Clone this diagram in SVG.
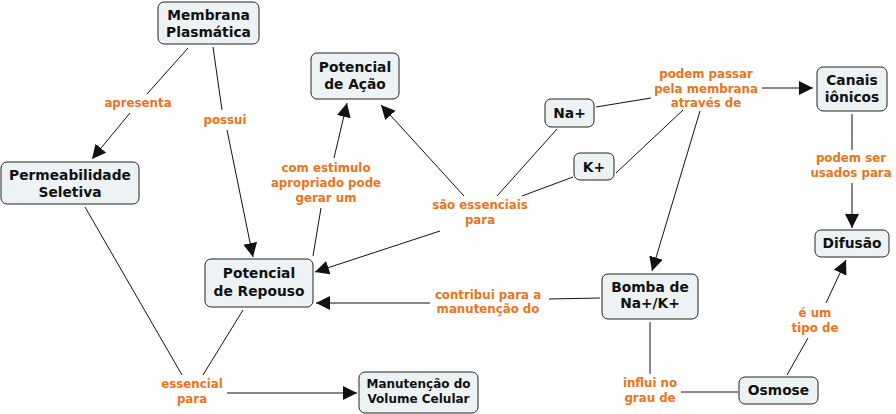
<svg xmlns="http://www.w3.org/2000/svg" width="896" height="414" viewBox="0 0 896 414">
<style>
.n rect{fill:#edf3f5;stroke:#222;stroke-width:1}
.n text{font-family:"DejaVu Sans",Verdana,sans-serif;font-weight:bold;font-size:13.8px;fill:#111;text-anchor:middle}
.l{font-family:"DejaVu Sans",Verdana,sans-serif;font-weight:bold;font-size:11.8px;fill:#ea7420;text-anchor:middle}
#conn line{stroke:#111;stroke-width:1;fill:none}
#conn line.a{marker-end:url(#ah)}
</style>
<defs>
<marker id="ah" viewBox="0 0 10 10" refX="10" refY="5" markerWidth="14" markerHeight="14" markerUnits="userSpaceOnUse" orient="auto">
<path d="M0,0 L10,5 L0,10 z" fill="#111"/>
</marker>
</defs>
<rect width="896" height="414" fill="#fff"/>
<g id="conn">
<line x1="188" y1="48" x2="147" y2="94"/>
<line class="a" x1="130" y1="113" x2="92" y2="159"/>
<line x1="213" y1="47" x2="222" y2="110"/>
<line class="a" x1="227" y1="130" x2="253" y2="257"/>
<line x1="85" y1="207" x2="182" y2="375"/>
<line x1="243" y1="310" x2="203" y2="375"/>
<line class="a" x1="227" y1="393" x2="357" y2="393"/>
<line x1="313" y1="256" x2="321" y2="208"/>
<line class="a" x1="334" y1="158" x2="347" y2="103"/>
<line x1="557" y1="129" x2="497" y2="196"/>
<line x1="573" y1="177" x2="522" y2="196"/>
<line class="a" x1="464" y1="196" x2="381" y2="105"/>
<line class="a" x1="440" y1="231" x2="315" y2="272"/>
<line x1="596" y1="107" x2="651" y2="98"/>
<line x1="616" y1="173" x2="683" y2="110"/>
<line class="a" x1="762" y1="88" x2="813" y2="88"/>
<line class="a" x1="700" y1="111" x2="652" y2="271"/>
<line x1="852" y1="114" x2="852" y2="150"/>
<line class="a" x1="852" y1="183" x2="852" y2="228"/>
<line x1="600" y1="298" x2="549" y2="299"/>
<line class="a" x1="430" y1="303" x2="316" y2="303"/>
<line x1="650" y1="322" x2="650" y2="374"/>
<line x1="681" y1="392" x2="738" y2="392"/>
<line x1="787" y1="375" x2="808" y2="338"/>
<line class="a" x1="826" y1="303" x2="846" y2="260"/>
</g>
<g id="labels">
<text class="l" x="138" y="107">apresenta</text>
<text class="l" x="225" y="124">possui</text>
<text class="l" x="326" y="172">com estimulo</text>
<text class="l" x="326" y="187">apropriado pode</text>
<text class="l" x="326" y="202">gerar um</text>
<text class="l" x="480" y="209">são essenciais</text>
<text class="l" x="480" y="224">para</text>
<text class="l" x="706" y="78">podem passar</text>
<text class="l" x="706" y="93">pela membrana</text>
<text class="l" x="706" y="107">através de</text>
<text class="l" x="851" y="162">podem ser</text>
<text class="l" x="851" y="177">usados para</text>
<text class="l" x="488" y="299">contribui para a</text>
<text class="l" x="488" y="313">manutenção do</text>
<text class="l" x="192" y="388">essencial</text>
<text class="l" x="192" y="403">para</text>
<text class="l" x="650" y="387">influi no</text>
<text class="l" x="650" y="402">grau de</text>
<text class="l" x="815" y="317">é um</text>
<text class="l" x="815" y="332">tipo de</text>
</g>
<g id="membrana" class="n"><rect x="158" y="2" width="101" height="42" rx="6"/><text x="208.5" y="20">Membrana</text><text x="208.5" y="37">Plasmática</text></g>
<g id="permeabilidade" class="n"><rect x="1" y="162" width="138" height="42" rx="6"/><text x="70" y="180">Permeabilidade</text><text x="70" y="197">Seletiva</text></g>
<g id="acao" class="n"><rect x="311" y="53" width="88" height="46" rx="6"/><text x="355" y="72">Potencial</text><text x="355" y="89">de Ação</text></g>
<g id="na" class="n"><rect x="545" y="99" width="49" height="28" rx="6"/><text x="569.5" y="118">Na+</text></g>
<g id="k" class="n"><rect x="574" y="153" width="40" height="27" rx="6"/><text x="594" y="172">K+</text></g>
<g id="canais" class="n"><rect x="817" y="67" width="70" height="44" rx="6"/><text x="852" y="85">Canais</text><text x="852" y="102">iônicos</text></g>
<g id="difusao" class="n"><rect x="815" y="230" width="74" height="27" rx="6"/><text x="852" y="248">Difusão</text></g>
<g id="repouso" class="n"><rect x="205" y="259" width="108" height="48" rx="6"/><text x="259" y="278">Potencial</text><text x="259" y="296">de Repouso</text></g>
<g id="volume" class="n"><rect x="359" y="372" width="119" height="41" rx="6"/><text x="418.5" y="388" style="font-size:12px">Manutenção do</text><text x="418.5" y="403" style="font-size:12px">Volume Celular</text></g>
<g id="bomba" class="n"><rect x="602" y="274" width="96" height="45" rx="6"/><text x="650" y="292">Bomba de</text><text x="650" y="308">Na+/K+</text></g>
<g id="osmose" class="n"><rect x="739" y="377" width="79" height="27" rx="6"/><text x="778.5" y="395">Osmose</text></g>
</svg>
